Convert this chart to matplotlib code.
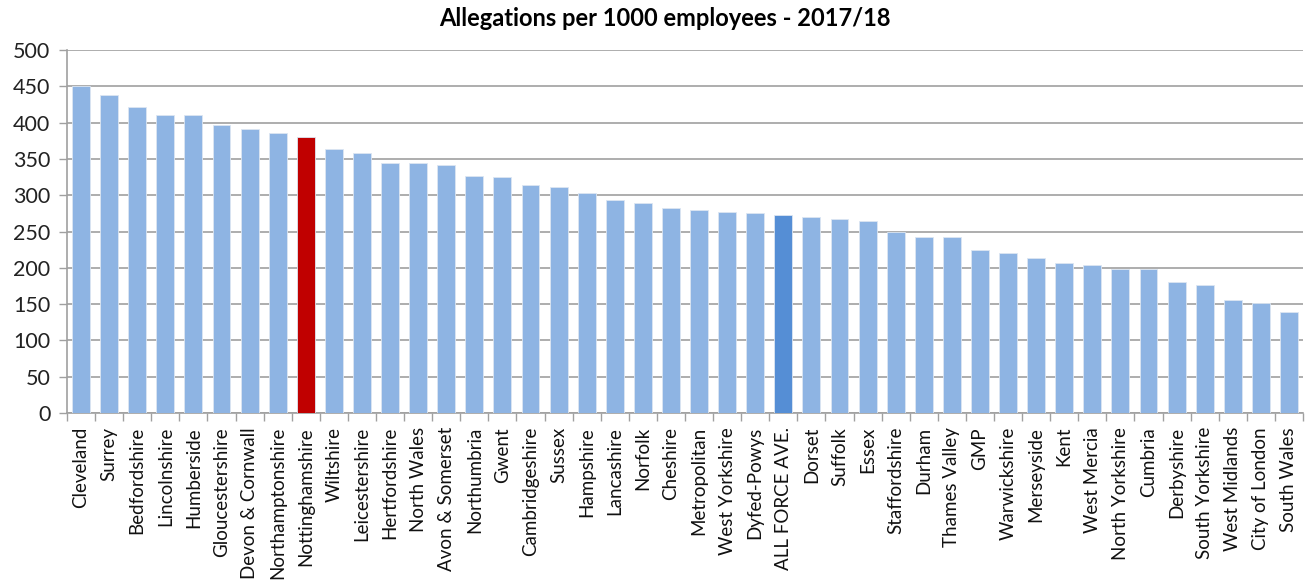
import matplotlib
matplotlib.use("Agg")
import matplotlib.pyplot as plt
import numpy as np

categories = ["Cleveland", "Surrey", "Bedfordshire", "Lincolnshire", "Humberside",
              "Gloucestershire", "Devon & Cornwall", "Northamptonshire", "Nottinghamshire",
              "Wiltshire", "Leicestershire", "Hertfordshire", "North Wales", "Avon & Somerset",
              "Northumbria", "Gwent", "Cambridgeshire", "Sussex", "Hampshire", "Lancashire",
              "Norfolk", "Cheshire", "Metropolitan", "West Yorkshire", "Dyfed-Powys",
              "ALL FORCE AVE.", "Dorset", "Suffolk", "Essex", "Staffordshire", "Durham",
              "Thames Valley", "GMP", "Warwickshire", "Merseyside", "Kent", "West Mercia",
              "North Yorkshire", "Cumbria", "Derbyshire", "South Yorkshire", "West Midlands",
              "City of London", "South Wales"]
values = [450, 438, 421, 410, 410, 397, 391, 386, 380, 364, 358, 344, 344, 341,
          327, 325, 314, 311, 303, 294, 289, 283, 279, 277, 275, 273, 270, 267, 264,
          249, 242, 242, 225, 220, 214, 206, 204, 199, 199, 181, 176, 155, 151, 139]
title = "Allegations per 1000 employees - 2017/18"
highlight_red = "Nottinghamshire"
highlight_avg = "ALL FORCE AVE."

plt.rcParams['font.family'] = ['Lato', 'DejaVu Sans']

fig = plt.figure(figsize=(13.11, 5.88), dpi=100)
ax = fig.add_axes([67/1311, (588-413)/588, (1303-67)/1311, (413-50)/588])

colors = []
for c in categories:
    if c == highlight_red:
        colors.append("#C00000")
    elif c == highlight_avg:
        colors.append("#558ED5")
    else:
        colors.append("#8EB4E3")

x = np.arange(len(categories))
ax.bar(x, values, width=0.64, color=colors, edgecolor="#DCE6F2", linewidth=0.6, zorder=3)

ax.set_xlim(-0.5, len(categories) - 0.5)
ax.set_ylim(0, 500)
ax.set_yticks(np.arange(0, 501, 50))
ax.yaxis.grid(True, color="#A0A0A0", linewidth=1.2, zorder=0)
ax.set_axisbelow(True)

ax.set_xticks(x)
ax.set_xticklabels(categories, rotation=90, fontsize=13.5, va="top", ha="center", color="#111111")
ax.set_xticks(np.arange(-0.5, len(categories), 1), minor=True)
ax.tick_params(axis="x", which="major", length=0, pad=10)
ax.tick_params(axis="x", which="minor", length=6, color="#A0A0A0", width=1)
ax.tick_params(axis="y", length=6, color="#A0A0A0", width=1, labelsize=15.5, pad=6, labelcolor="#222222")

for s in ["top", "right"]:
    ax.spines[s].set_visible(False)
for s in ["left", "bottom"]:
    ax.spines[s].set_color("#A0A0A0")
    ax.spines[s].set_linewidth(1.2)

fig.text(665/1311, 1 - 18/588, title, ha="center", va="center", fontsize=17, fontweight="bold", color="#000000")

fig.savefig("out.png", dpi=100)
